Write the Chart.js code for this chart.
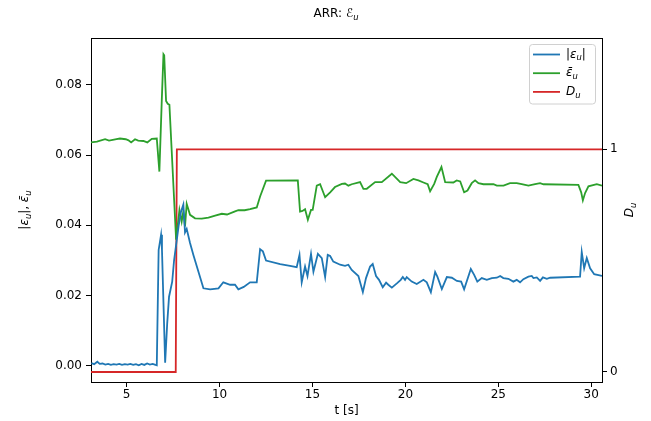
<!DOCTYPE html>
<html>
<head>
<meta charset="utf-8">
<script src="https://cdn.jsdelivr.net/npm/chart.js@4/dist/chart.umd.min.js"></script>
<style>
  html, body { margin: 0; padding: 0; background: #fff; }
  #chart { display: block; }
</style>
</head>
<body>
<canvas id="chart" width="651" height="421"></canvas>
<script>
// |eps_u| samples
const tAbs = [3.10, 3.25, 3.42, 3.55, 3.70, 3.85, 4.00, 4.15, 4.30, 4.45, 4.60, 4.75, 4.90, 5.05, 5.20, 5.35, 5.50, 5.65, 5.80, 5.95,
  6.10, 6.25, 6.40, 6.55, 6.62, 6.72, 6.85, 6.90, 7.07, 7.18, 7.28, 7.45, 7.55, 7.70, 7.80, 7.92, 8.05, 8.14, 8.23, 8.41,
  8.59, 9.13, 9.49, 9.94, 10.20, 10.57, 10.83, 11.01, 11.30, 11.64, 12.00, 12.18, 12.33, 12.50, 13.26, 13.79, 14.15, 14.30, 14.42, 14.60,
  14.73, 14.92, 15.05, 15.29, 15.50, 15.68, 15.82, 15.95, 16.12, 16.49, 16.75, 16.93, 17.11, 17.47, 17.71, 17.88, 18.10, 18.24, 18.42, 18.58,
  18.78, 18.96, 19.08, 19.27, 19.54, 19.75, 19.86, 19.98, 20.07, 20.34, 20.61, 20.97, 21.15, 21.37, 21.60, 21.72, 21.96, 22.23, 22.50, 22.77,
  23.00, 23.16, 23.52, 23.70, 23.87, 24.11, 24.38, 24.65, 24.92, 25.10, 25.27, 25.54, 25.81, 25.99, 26.17, 26.35, 26.62, 26.80, 26.89, 27.07,
  27.25, 27.40, 27.61, 27.79, 29.40, 29.49, 29.62, 29.76, 29.94, 30.16, 30.58];
const errAbs = [0.0008, 0.0005, 0.0012, 0.0006, 0.0007, 0.0004, 0.0006, 0.0003, 0.0005, 0.0004, 0.0006, 0.0003, 0.0005, 0.0004, 0.0006, 0.0003, 0.0005, 0.0002, 0.0006, 0.0003,
  0.0007, 0.0004, 0.0006, 0.0003, 0.0002, 0.0330, 0.0373, 0.0330, 0.0009, 0.0120, 0.0197, 0.0240, 0.0300, 0.0360, 0.0400, 0.0438, 0.0459, 0.0380, 0.0390, 0.0350,
  0.0316, 0.0221, 0.0218, 0.0221, 0.0238, 0.0231, 0.0231, 0.0218, 0.0225, 0.0238, 0.0238, 0.0332, 0.0326, 0.0300, 0.0290, 0.0285, 0.0281, 0.0316, 0.0238, 0.0283,
  0.0256, 0.0319, 0.0268, 0.0319, 0.0307, 0.0253, 0.0316, 0.0313, 0.0297, 0.0288, 0.0285, 0.0288, 0.0273, 0.0256, 0.0210, 0.0250, 0.0283, 0.0290, 0.0256, 0.0245,
  0.0224, 0.0237, 0.0231, 0.0223, 0.0235, 0.0245, 0.0253, 0.0245, 0.0253, 0.0240, 0.0233, 0.0245, 0.0238, 0.0210, 0.0267, 0.0254, 0.0219, 0.0253, 0.0251, 0.0242,
  0.0240, 0.0218, 0.0276, 0.0259, 0.0240, 0.0250, 0.0245, 0.0250, 0.0251, 0.0256, 0.0250, 0.0248, 0.0240, 0.0245, 0.0238, 0.0247, 0.0254, 0.0256, 0.0250, 0.0252,
  0.0242, 0.0252, 0.0248, 0.0251, 0.0254, 0.0324, 0.0278, 0.0307, 0.0278, 0.0261, 0.0256];

// mean eps_u samples
const tMean = [3.08, 3.40, 3.84, 4.05, 4.25, 4.45, 4.64, 4.95, 5.10, 5.24, 5.45, 5.62, 5.90, 6.11, 6.35, 6.62, 6.76, 6.89, 6.98, 7.02,
  7.12, 7.21, 7.30, 7.66, 7.84, 7.96, 8.05, 8.14, 8.23, 8.41, 8.68, 9.04, 9.40, 9.76, 10.12, 10.40, 10.83, 11.01, 11.35, 11.64,
  12.00, 12.18, 12.50, 14.21, 14.33, 14.46, 14.60, 14.75, 14.92, 15.01, 15.23, 15.41, 15.68, 15.95, 16.21, 16.58, 16.75, 16.93, 17.11, 17.56,
  17.74, 17.92, 18.37, 18.73, 19.27, 19.72, 20.04, 20.43, 20.70, 20.97, 21.20, 21.33, 21.55, 21.69, 21.94, 22.14, 22.58, 22.76, 22.95, 23.16,
  23.34, 23.57, 23.75, 23.93, 24.20, 24.74, 24.92, 25.28, 25.63, 25.99, 26.26, 26.62, 26.98, 27.25, 27.43, 29.31, 29.46, 29.55, 29.67, 29.85,
  30.30, 30.58];
const errMean = [0.0636, 0.0638, 0.0645, 0.0641, 0.0643, 0.0645, 0.0647, 0.0645, 0.0642, 0.0636, 0.0645, 0.0641, 0.0640, 0.0636, 0.0646, 0.0647, 0.0553, 0.0757, 0.0887, 0.0884,
  0.0754, 0.0746, 0.0743, 0.0359, 0.0444, 0.0411, 0.0440, 0.0397, 0.0461, 0.0430, 0.0420, 0.0419, 0.0422, 0.0428, 0.0433, 0.0431, 0.0440, 0.0443, 0.0443, 0.0446,
  0.0451, 0.0482, 0.0527, 0.0528, 0.0439, 0.0441, 0.0446, 0.0416, 0.0444, 0.0444, 0.0513, 0.0517, 0.0480, 0.0494, 0.0509, 0.0518, 0.0519, 0.0513, 0.0517, 0.0523,
  0.0504, 0.0504, 0.0523, 0.0523, 0.0547, 0.0523, 0.0520, 0.0532, 0.0528, 0.0522, 0.0517, 0.0497, 0.0518, 0.0538, 0.0566, 0.0523, 0.0522, 0.0528, 0.0525, 0.0494,
  0.0499, 0.0520, 0.0528, 0.0520, 0.0517, 0.0517, 0.0513, 0.0513, 0.0520, 0.0520, 0.0517, 0.0513, 0.0517, 0.0520, 0.0517, 0.0515, 0.0494, 0.0471, 0.0492, 0.0511,
  0.0517, 0.0513];

// detection flag D_u
const tStep = [3.08, 7.64, 7.70, 30.58];
const dStep = [0, 0, 1, 1];

const xTicks = [5, 10, 15, 20, 25, 30];
const yTicks = [0, 0.02, 0.04, 0.06, 0.08];
const yTickLabels = ['0.00', '0.02', '0.04', '0.06', '0.08'];
const dTicks = [0, 1];
const dTickLabels = ['0', '1'];

const FONT = 'DejaVu Sans';

// rich text pieces: t = text, i = italic, s = subscript
const titleText = [{ t: 'ARR: ' }, { t: 'ℰ', i: true }, { t: 'u', i: true, s: true }];
const yLabelText = [{ t: '|' }, { t: 'ε', i: true }, { t: 'u', i: true, s: true }, { t: '|, ' }, { t: 'ε̄', i: true }, { t: 'u', i: true, s: true }];
const dLabelText = [{ t: 'D', i: true }, { t: 'u', i: true, s: true }];
const xLabelText = [{ t: 't [s]' }];
const legendTexts = [
  [{ t: '|' }, { t: 'ε', i: true }, { t: 'u', i: true, s: true }, { t: '|' }],
  [{ t: 'ε̄', i: true }, { t: 'u', i: true, s: true }],
  [{ t: 'D', i: true }, { t: 'u', i: true, s: true }]
];

function partFont(p, size) {
  return (p.i ? 'italic ' : '') + (p.s ? size * 0.7 : size) + 'px "' + FONT + '"';
}

function richWidth(ctx, parts, size) {
  let w = 0;
  parts.forEach(p => { ctx.font = partFont(p, size); w += ctx.measureText(p.t).width; });
  return w;
}

function drawRich(ctx, parts, x, y, size, align, rot) {
  ctx.save();
  ctx.translate(x, y);
  if (rot) ctx.rotate(rot);
  ctx.fillStyle = '#000';
  ctx.textBaseline = 'middle';
  ctx.textAlign = 'left';
  let pos = align === 'center' ? -richWidth(ctx, parts, size) / 2 : 0;
  parts.forEach(p => {
    ctx.font = partFont(p, size);
    ctx.fillText(p.t, pos, p.s ? size * 0.3 : 0);
    pos += ctx.measureText(p.t).width;
  });
  ctx.restore();
}

const decorations = {
  id: 'decorations',
  afterDraw(chart) {
    const ctx = chart.ctx;
    const a = chart.chartArea;
    // frame
    ctx.save();
    ctx.strokeStyle = '#000';
    ctx.lineWidth = 1;
    ctx.beginPath();
    ctx.moveTo(a.left, a.top + 0.5);
    ctx.lineTo(a.right, a.top + 0.5);
    ctx.stroke();
    ctx.restore();

    drawRich(ctx, titleText, 336, 14, 12, 'center');
    drawRich(ctx, yLabelText, 25, (a.top + a.bottom) / 2, 12, 'center', -Math.PI / 2);
    drawRich(ctx, dLabelText, 630, (a.top + a.bottom) / 2, 12, 'center', -Math.PI / 2);
    drawRich(ctx, xLabelText, (a.left + a.right) / 2, 411, 12, 'center');

    // legend
    const lx = 529.5, ly = 44.5, lw = 66, lh = 59.5;
    ctx.save();
    ctx.fillStyle = 'rgba(255,255,255,0.8)';
    ctx.strokeStyle = '#d0d0d0';
    ctx.lineWidth = 1;
    ctx.beginPath();
    ctx.roundRect(lx, ly, lw, lh, 3);
    ctx.fill();
    ctx.stroke();
    chart.data.datasets.forEach((ds, i) => {
      const yy = 54.5 + i * 18.7;
      ctx.strokeStyle = ds.borderColor;
      ctx.lineWidth = 1.8;
      ctx.beginPath();
      ctx.moveTo(533, yy);
      ctx.lineTo(560, yy);
      ctx.stroke();
      drawRich(ctx, legendTexts[i], 566, yy, 12, 'left');
    });
    ctx.restore();
  }
};

function pts(xs, ys) {
  return xs.map((x, i) => ({ x: x, y: ys[i] }));
}

function fixTicks(values) {
  return function(scale) { scale.ticks = values.map(v => ({ value: v })); };
}

const tickFont = { family: FONT, size: 12 };

new Chart(document.getElementById('chart').getContext('2d'), {
  type: 'line',
  data: {
    datasets: [
      { label: '|ε_u|', data: pts(tAbs, errAbs), borderColor: '#1f77b4', borderWidth: 1.8, pointRadius: 0, tension: 0, yAxisID: 'y' },
      { label: 'ε̄_u', data: pts(tMean, errMean), borderColor: '#2ca02c', borderWidth: 1.8, pointRadius: 0, tension: 0, yAxisID: 'y' },
      { label: 'D_u', data: pts(tStep, dStep), borderColor: '#d62728', borderWidth: 1.8, pointRadius: 0, tension: 0, yAxisID: 'y1' }
    ]
  },
  options: {
    responsive: false,
    animation: false,
    devicePixelRatio: 1,
    layout: { padding: { top: 38, left: 0, right: 0, bottom: 0 } },
    plugins: { legend: { display: false }, title: { display: false }, tooltip: { enabled: false } },
    scales: {
      x: {
        type: 'linear', min: 3.08, max: 30.58,
        afterBuildTicks: fixTicks(xTicks),
        afterFit(s) { s.height = 39; },
        grid: { drawOnChartArea: false, drawTicks: true, tickLength: 5, color: '#000' },
        border: { color: '#000', width: 1 },
        ticks: { font: tickFont, color: '#000', padding: 1, maxRotation: 0, callback: v => String(v) }
      },
      y: {
        type: 'linear', position: 'left', min: -0.00456, max: 0.0933,
        afterBuildTicks: fixTicks(yTicks),
        afterFit(s) { s.width = 91; },
        grid: { drawOnChartArea: false, drawTicks: true, tickLength: 5, color: '#000' },
        border: { color: '#000', width: 1 },
        ticks: { font: tickFont, color: '#000', padding: 4, callback: (v, i) => yTickLabels[i] }
      },
      y1: {
        type: 'linear', position: 'right', min: -0.045, max: 1.5,
        afterBuildTicks: fixTicks(dTicks),
        afterFit(s) { s.width = 49; },
        grid: { drawOnChartArea: false, drawTicks: true, tickLength: 5, color: '#000' },
        border: { color: '#000', width: 1 },
        ticks: { font: tickFont, color: '#000', padding: 3, callback: (v, i) => dTickLabels[i] }
      }
    }
  },
  plugins: [decorations]
});
</script>
</body>
</html>
